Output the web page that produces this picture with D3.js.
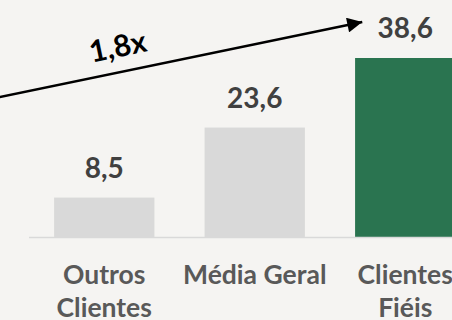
<!DOCTYPE html>
<html>
<head>
<meta charset="utf-8">
<script src="https://cdn.jsdelivr.net/npm/d3@7"></script>
<style>
  html, body { margin: 0; padding: 0; background: #f5f4f2; overflow: hidden; }
  svg { display: block; }
  text { font-family: Lato, "Open Sans", sans-serif; font-weight: 700; }
</style>
</head>
<body>
<svg id="chart" width="452" height="320"></svg>
<script>
// Ticket médio por perfil de cliente
const categories = ["Outros Clientes", "Média Geral", "Clientes Fiéis"];
const categoryLines = [["Outros", "Clientes"], ["Média Geral"], ["Clientes", "Fiéis"]];
const values = [8.5, 23.6, 38.6];
const valueLabels = ["8,5", "23,6", "38,6"];
const barColors = ["#d9d9d9", "#d9d9d9", "#2a7450"];
const multiplierLabel = "1,8x";

const W = 452, H = 320;
const baseline = 237;
const svg = d3.select("#chart");

svg.append("rect").attr("width", W).attr("height", H).attr("fill", "#f5f4f2");

const x = d3.scaleBand()
  .domain(categories)
  .range([29, 480.5])
  .paddingInner(1 / 3)
  .paddingOuter(1 / 6);

const y = d3.scaleLinear()
  .domain([0, 38.6])
  .range([baseline, 58]);

// bars
svg.selectAll("rect.bar")
  .data(values)
  .join("rect")
  .attr("class", "bar")
  .attr("x", (d, i) => x(categories[i]))
  .attr("width", x.bandwidth())
  .attr("y", d => y(d))
  .attr("height", d => baseline - y(d))
  .attr("fill", (d, i) => barColors[i]);

// category axis line
svg.append("line")
  .attr("x1", x.range()[0]).attr("x2", W)
  .attr("y1", baseline + 0.5).attr("y2", baseline + 0.5)
  .attr("stroke", "#d9d9d9").attr("stroke-width", 1.5);

// value labels
svg.selectAll("text.val")
  .data(values)
  .join("text")
  .attr("class", "val")
  .attr("x", (d, i) => x(categories[i]) + x.bandwidth() / 2)
  .attr("y", d => y(d) - 20)
  .attr("text-anchor", "middle")
  .attr("font-size", 28)
  .attr("fill", "#404040")
  .text((d, i) => valueLabels[i]);

// category labels
const cat = svg.selectAll("text.cat")
  .data(categories)
  .join("text")
  .attr("class", "cat")
  .attr("text-anchor", "middle")
  .attr("font-size", 26.5)
  .attr("fill", "#595959")
  .attr("transform", d => `translate(${x(d) + x.bandwidth() / 2},284)`);
cat.selectAll("tspan")
  .data((d, i) => categoryLines[i])
  .join("tspan")
  .attr("x", 0)
  .attr("dy", (d, j) => j === 0 ? 0 : 33)
  .text(d => d);

// growth arrow towards the loyal-customer bar
const tipX = x(categories[2]) + x.bandwidth() / 2 - 43;
const tipY = y(values[2]) - 36;
const slope = -0.207;
const startX = -10;
const startY = tipY - slope * (tipX - startX);
const angle = Math.atan(slope) * 180 / Math.PI;

svg.append("defs").append("marker")
  .attr("id", "head")
  .attr("viewBox", "0 0 10 10")
  .attr("refX", 10).attr("refY", 5)
  .attr("markerWidth", 7).attr("markerHeight", 6)
  .attr("markerUnits", "strokeWidth")
  .attr("orient", "auto")
  .append("path")
  .attr("d", "M0,0 L10,5 L0,10 Z")
  .attr("fill", "#000");

svg.append("line")
  .attr("x1", startX).attr("y1", startY)
  .attr("x2", tipX).attr("y2", tipY)
  .attr("stroke", "#000").attr("stroke-width", 2.5)
  .attr("marker-end", "url(#head)");

const lx = 123;
const ly = startY + slope * (lx - startX);
svg.append("text")
  .attr("transform", `translate(${lx},${ly}) rotate(${angle}) translate(0,-15)`)
  .attr("text-anchor", "middle")
  .attr("font-size", 30)
  .attr("fill", "#000")
  .text(multiplierLabel);
</script>
</body>
</html>
